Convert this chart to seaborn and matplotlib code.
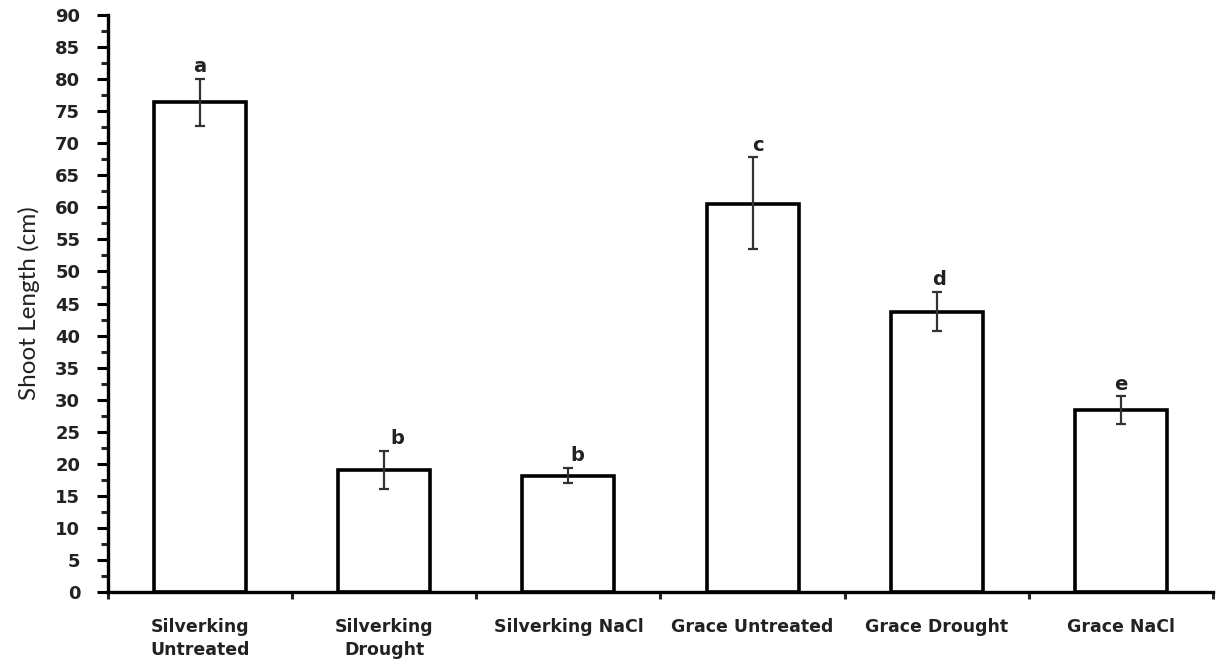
import matplotlib
matplotlib.use("Agg")
import matplotlib.pyplot as plt
import seaborn as sns
import pandas as pd
import numpy as np
from matplotlib.ticker import MultipleLocator, FixedLocator

categories = ["Silverking\nUntreated", "Silverking\nDrought", "Silverking NaCl",
              "Grace Untreated", "Grace Drought", "Grace NaCl"]
means = [76.5, 19.0, 18.1, 60.6, 43.7, 28.4]
err_low = [3.8, 3.0, 1.1, 7.1, 3.0, 2.2]
err_high = [3.5, 3.0, 1.3, 7.2, 3.1, 2.1]
letters = ["a", "b", "b", "c", "d", "e"]
letter_dx = [0.0, 0.07, 0.05, 0.03, 0.01, 0.0]

sns.set_theme(style="white")
plt.rcParams['font.family'] = ['DejaVu Sans']

df = pd.DataFrame({"cat": categories, "val": means})

fig = plt.figure(figsize=(12.17, 6.68), dpi=100)
ax = fig.add_axes([0.0887, 0.1138, 0.908, 0.8637])

sns.barplot(data=df, x="cat", y="val", ax=ax, color="white", edgecolor="black",
            linewidth=2.6, width=0.5, errorbar=None, saturation=1)

x = np.arange(len(categories))
ax.errorbar(x, means, yerr=[err_low, err_high], fmt="none", ecolor="#333333",
            elinewidth=1.6, capsize=3.8, capthick=1.6)

for xi, m, eh, lt, dx in zip(x, means, err_high, letters, letter_dx):
    ax.annotate(lt, (xi + dx, m + eh), xytext=(0, 2), textcoords="offset points",
                ha="center", va="bottom", fontsize=14, fontweight="bold",
                color="#222222")

ax.set_xlim(-0.5, 5.5)
ax.set_ylim(0, 90)
ax.yaxis.set_major_locator(MultipleLocator(5))
ax.yaxis.set_minor_locator(MultipleLocator(2.5))
ax.tick_params(axis="y", which="major", direction="out", length=8, width=2.2,
               labelsize=13, left=True, pad=12, colors="black")
ax.tick_params(axis="y", which="minor", direction="out", length=5, width=2.2, left=True)
for lab in ax.get_yticklabels():
    lab.set_fontweight("bold")
    lab.set_color("#222222")

ax.xaxis.set_minor_locator(FixedLocator(np.arange(-0.5, 6.0, 1.0)))
ax.tick_params(axis="x", which="minor", direction="out", length=5, width=2.2, bottom=True)
ax.tick_params(axis="x", which="major", length=0, labelsize=12.5, pad=19, colors="#222222")
ax.set_xticks(x)
ax.set_xticklabels(categories, fontweight="bold", va="top", linespacing=1.3)

ax.set_xlabel("")
ax.set_ylabel("Shoot Length (cm)", fontsize=17.5, labelpad=11, color="#222222",
              family=["Lato", "DejaVu Sans"])

for s in ["top", "right"]:
    ax.spines[s].set_visible(False)
for s in ["left", "bottom"]:
    ax.spines[s].set_color("black")
    ax.spines[s].set_linewidth(2.4)

fig.savefig("out.png", dpi=100, facecolor="white")
